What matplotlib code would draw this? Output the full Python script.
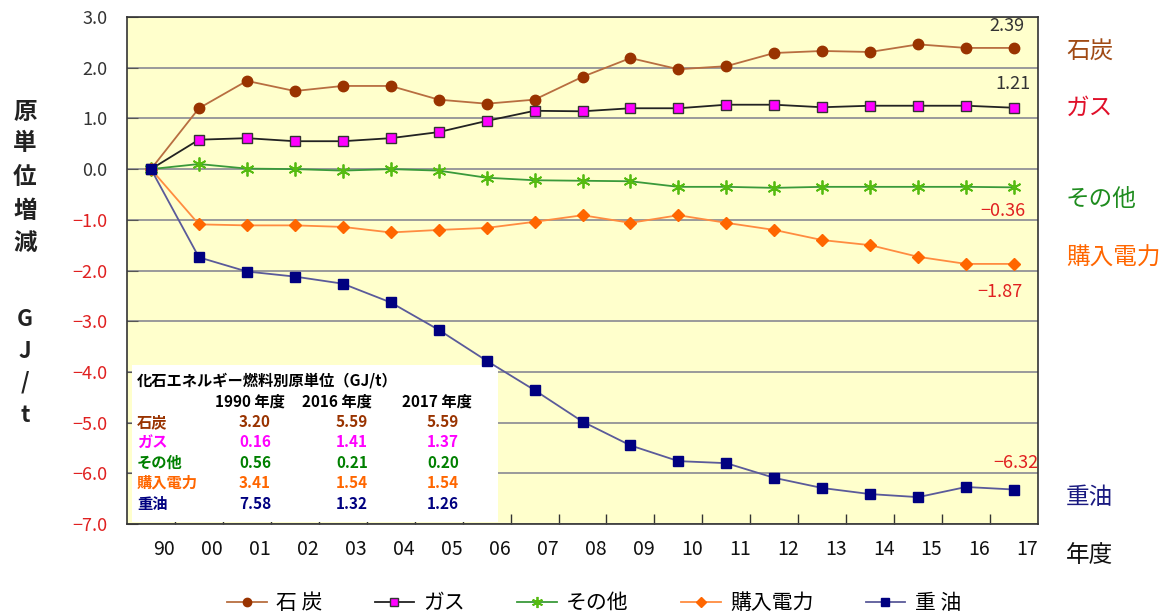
import matplotlib
matplotlib.use('Agg')
import matplotlib.pyplot as plt
from matplotlib.patches import Rectangle
import numpy as np

plt.rcParams['font.family'] = ['Noto Sans CJK JP', 'DejaVu Sans']

# ---------------- data ----------------
years = ['90', '00', '01', '02', '03', '04', '05', '06', '07', '08',
         '09', '10', '11', '12', '13', '14', '15', '16', '17']
coal = [0, 1.20, 1.74, 1.54, 1.64, 1.64, 1.37, 1.29, 1.37, 1.82,
        2.19, 1.97, 2.03, 2.29, 2.33, 2.31, 2.46, 2.39, 2.39]
gas = [0, 0.58, 0.61, 0.55, 0.55, 0.61, 0.73, 0.95, 1.15, 1.14,
       1.20, 1.20, 1.27, 1.27, 1.22, 1.25, 1.25, 1.25, 1.21]
other = [0, 0.10, 0.01, 0.00, -0.03, 0.00, -0.03, -0.17, -0.22, -0.23,
         -0.24, -0.35, -0.35, -0.37, -0.35, -0.35, -0.35, -0.35, -0.36]
elec = [0, -1.09, -1.11, -1.11, -1.14, -1.25, -1.20, -1.16, -1.04, -0.91,
        -1.06, -0.91, -1.06, -1.20, -1.40, -1.50, -1.73, -1.87, -1.87]
oil = [0, -1.74, -2.02, -2.12, -2.26, -2.63, -3.17, -3.78, -4.36, -4.98,
       -5.45, -5.76, -5.80, -6.09, -6.29, -6.41, -6.47, -6.27, -6.32]

legend_labels = ['石 炭', 'ガス', 'その他', '購入電力', '重 油']
side_labels = ['石炭', 'ガス', 'その他', '購入電力', '重油']
end_labels = ['2.39', '1.21', '−0.36', '−1.87', '−6.32']
yticks = [3, 2, 1, 0, -1, -2, -3, -4, -5, -6, -7]

table_title = '化石エネルギー燃料別原単位（GJ/t）'
table_headers = ['1990 年度', '2016 年度', '2017 年度']
table_fuels = ['石炭', 'ガス', 'その他', '購入電力', '重油']
table_1990 = ['3.20', '0.16', '0.56', '3.41', '7.58']
table_2016 = ['5.59', '1.41', '0.21', '1.54', '1.32']
table_2017 = ['5.59', '1.37', '0.20', '1.54', '1.26']

# ---------------- figure ----------------
W, H = 1168, 616
fig = plt.figure(figsize=(W / 100, H / 100), dpi=100)
fig.patch.set_facecolor('white')


def fx(px):
    return px / W


def fy(py):
    return 1 - py / H


ax = fig.add_axes([fx(127), fy(524), (1038 - 127) / W, (524 - 17) / H])
ax.set_facecolor('#FFFFCC')

x = np.arange(len(years))
l_coal, = ax.plot(x, coal, color='#B86E40', lw=1.3, marker='o', ms=7.5,
                  mfc='#993300', mec='#993300', zorder=3)
l_gas, = ax.plot(x, gas, color='#222222', lw=1.3, marker='s', ms=6.5,
                 mfc='#FF00FF', mec='#333333', mew=1.0, zorder=3)
l_other, = ax.plot(x, other, color='#3A9A3A', lw=1.3, marker=(6, 2, 0), ms=10,
                   mec='#55BB11', mew=1.3, zorder=3)
l_elec, = ax.plot(x, elec, color='#FF8C40', lw=1.3, marker='D', ms=6,
                  mfc='#FF6600', mec='#FF6600', zorder=3)
l_oil, = ax.plot(x, oil, color='#5A5A9A', lw=1.3, marker='s', ms=7.5,
                 mfc='#000080', mec='#000080', zorder=3)

ax.set_xlim(-0.5, len(years) - 0.5)
ax.set_ylim(-7, 3)

# y axis
ax.set_yticks(yticks)
ax.set_yticklabels([f'{v:.1f}'.replace('-', '−') for v in yticks])
for lab, v in zip(ax.get_yticklabels(), yticks):
    lab.set_color('#E02020' if v < 0 else '#333333')
ax.tick_params(axis='y', direction='in', length=8, color='#555555',
               pad=14, labelsize=13)
ax.yaxis.grid(True, color='#9A9A9A', lw=1.4)
ax.set_axisbelow(True)

# x axis
ax.set_xticks(x + 0.28)
ax.set_xticklabels(years)
ax.tick_params(axis='x', which='major', length=0, pad=11, labelsize=14,
               labelcolor='#111111')
ax.set_xticks(np.arange(0.5, len(years) - 0.5, 1), minor=True)
ax.tick_params(axis='x', which='minor', direction='in', length=7,
               color='#333333', width=1.0)

for s in ax.spines.values():
    s.set_color('#333333')
    s.set_linewidth(1.2)

# end-value annotations
end_vals = [coal[-1], gas[-1], other[-1], elec[-1], oil[-1]]
end_offsets = [(-5, 16), (-1, 17), (-8, -17), (-10, -20), (1, 19)]
end_colors = ['#333333', '#333333', '#E02020', '#E02020', '#E02020']
for txt, v, off, c in zip(end_labels, end_vals, end_offsets, end_colors):
    ax.annotate(txt, xy=(len(years) - 1, v), xytext=off,
                textcoords='offset points', ha='center', va='center',
                fontsize=13, color=c, annotation_clip=False, zorder=5)

# inset table box
ax.add_patch(Rectangle((5 / 911, 2 / 507), 366 / 911, 157 / 507,
                       transform=ax.transAxes, facecolor='white',
                       edgecolor='none', zorder=1.5))
tcolors = ['#993300', '#FF00FF', '#008000', '#FF6600', '#000080']
fig.text(fx(137), fy(380), table_title, fontsize=11, fontweight='bold',
         color='black', ha='left', va='center')
col_x = [255, 352, 443]
for cx, h in zip([250, 337, 437], table_headers):
    fig.text(fx(cx), fy(402), h, fontsize=11, fontweight='bold',
             color='black', ha='center', va='center')
row_y = [422, 442, 463, 483, 504]
for i, (ry, name, c) in enumerate(zip(row_y, table_fuels, tcolors)):
    fig.text(fx(137), fy(ry), name, fontsize=11, fontweight='bold',
             color=c, ha='left', va='center')
    for cx, col in zip(col_x, [table_1990, table_2016, table_2017]):
        fig.text(fx(cx), fy(ry), col[i], fontsize=11, fontweight='bold',
                 color=c, ha='center', va='center')

# right-side labels
side_colors = ['#A04A14', '#E0102A', '#1E8C1E', '#FF6600', '#1A1A80']
side_y = [51, 108, 200, 258, 497]
for t, c, yy in zip(side_labels, side_colors, side_y):
    fig.text(fx(1066), fy(yy), t, fontsize=17, color=c,
             ha='left', va='center')
fig.text(fx(1066), fy(556), '年度', fontsize=17, color='#111111',
         ha='left', va='center')

# vertical y label
for ch, yy in zip('原単位増減', [112, 143, 177, 211, 243]):
    fig.text(fx(25), fy(yy), ch, fontsize=17, fontweight='bold',
             color='#222222', ha='center', va='center')
for ch, yy in zip('GJ/t', [319, 351, 382, 416]):
    fig.text(fx(25), fy(yy), ch, fontsize=16, fontweight='bold',
             color='#222222', ha='center', va='center')

# legend
fig.legend([l_coal, l_gas, l_other, l_elec, l_oil], legend_labels,
           loc='center', bbox_to_anchor=(fx(594), fy(603)), ncol=5,
           frameon=False, fontsize=15, handlelength=1.9, handletextpad=0.45,
           columnspacing=2.5, markerscale=0.8, borderpad=0.0)

fig.savefig('out.png', dpi=100)
